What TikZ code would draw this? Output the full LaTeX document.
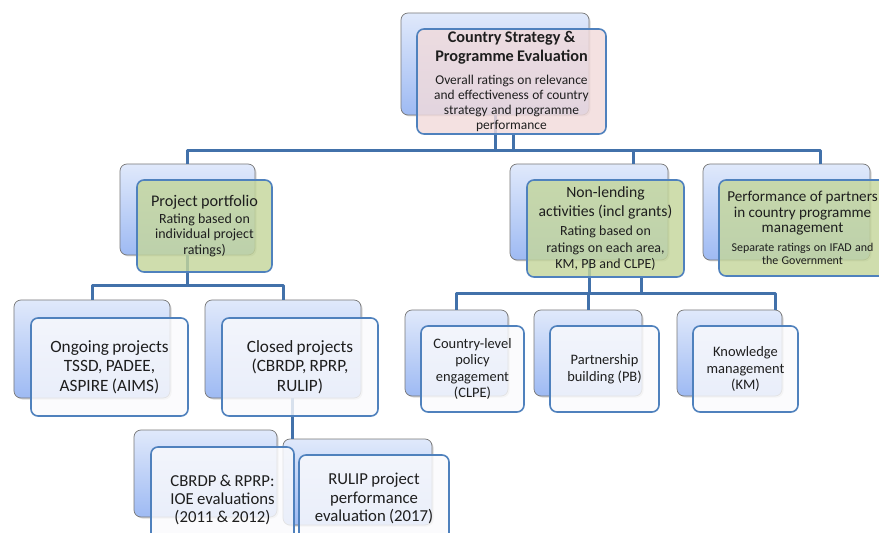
\documentclass[tikz,border=0pt]{standalone}
\usepackage{fontspec}
\setmainfont{Carlito}
\usetikzlibrary{shadows}
\definecolor{backtop}{RGB}{224,233,251}
\definecolor{backbot}{RGB}{158,186,243}
\definecolor{backline}{RGB}{120,120,120}
\definecolor{frontline}{RGB}{79,129,189}
\definecolor{connline}{RGB}{66,113,170}
\definecolor{pinkfill}{RGB}{242,219,219}
\definecolor{greenfill}{RGB}{196,214,155}
\definecolor{whitefill}{RGB}{250,250,252}
\definecolor{textcol}{RGB}{30,30,30}
\begin{document}
\begin{tikzpicture}[x=1bp,y=-1bp,line join=bevel,
  backbox/.style={draw=backline,line width=0.7bp,rounded corners=7bp,top color=backtop,bottom color=backbot,
    drop shadow={opacity=0.3,shadow xshift=1.5bp,shadow yshift=-1.5bp},inner sep=0pt},
  frontbox/.style={draw=frontline,line width=1.6bp,rounded corners=7bp,fill opacity=0.82,text opacity=1,
    inner ysep=0pt,inner xsep=-15bp,align=center,text=textcol},
  conn/.style={draw=connline,line width=3bp}]
\useasboundingbox (0,0) rectangle (879,533);
%% back boxes
% Node: top
\node[backbox,minimum width=188bp,minimum height=102bp] (topB) at (495,64) {};
% Node: pp
\node[backbox,minimum width=135bp,minimum height=91bp] (ppB) at (187.5,209.5) {};
% Node: nl
\node[backbox,minimum width=158bp,minimum height=96bp] (nlB) at (589,212) {};
% Node: perf
\node[backbox,minimum width=167bp,minimum height=96bp] (perfB) at (786.5,212) {};
% Node: ongo
\node[backbox,minimum width=156bp,minimum height=98bp] (ongoB) at (92,349) {};
% Node: closed
\node[backbox,minimum width=156bp,minimum height=98bp] (closedB) at (283,349) {};
% Node: clpe
\node[backbox,minimum width=103bp,minimum height=86bp] (clpeB) at (456.5,353) {};
% Node: pb
\node[backbox,minimum width=108bp,minimum height=86bp] (pbB) at (588,353) {};
% Node: km
\node[backbox,minimum width=105bp,minimum height=86bp] (kmB) at (729.5,353) {};
% Node: cbrdp
\node[backbox,minimum width=143bp,minimum height=87bp] (cbrdpB) at (205.5,473.5) {};
% Node: rulip
\node[backbox,minimum width=149bp,minimum height=86bp] (rulipB) at (357.5,482) {};
%%
% Edge: top -> pp
\draw[conn] (topB.south) -- ++(0,35) -| (ppB.north);
% Edge: top -> nl
\draw[conn] (topB.south) -- ++(0,35) -| ([xshift=44bp]nlB.north);
% Edge: top -> perf
\draw[conn] (topB.south) -- ++(0,35) -| ([xshift=34bp]perfB.north);
% Edge: pp -> ongo
\draw[conn] (ppB.south) -- ++(0,30) -| (ongoB.north);
% Edge: pp -> closed
\draw[conn] (ppB.south) -- ++(0,30) -| (closedB.north);
% Edge: nl -> clpe
\draw[conn] (nlB.south) -- ++(0,33) -| (clpeB.north);
% Edge: nl -> pb
\draw[conn] (nlB.south) -- ++(0,33) -| (pbB.north);
% Edge: nl -> km
\draw[conn] (nlB.south) -- ++(0,33) -| ([xshift=45.5bp]kmB.north);
% Edge: closed -> rulip
\draw[conn] ([xshift=9bp]closedB.south) -- ([xshift=9bp]closedB.south |- rulipB.north);
%% front boxes
% Node: top
\node[frontbox,fill=pinkfill,minimum width=189bp,minimum height=105bp,text width=219bp] (topF) at (511.5,81.5)
  {{\fontsize{16.3}{19}\selectfont\bfseries Country Strategy \&\\Programme Evaluation\par}\vspace{8bp}%
   {\fontsize{13.5}{15}\selectfont Overall ratings on relevance\\and effectiveness of country\\strategy and programme\\performance\par}};
% Node: pp
\node[frontbox,fill=greenfill,minimum width=135bp,minimum height=92bp,text width=165bp] (ppF) at (204.5,226)
  {{\fontsize{16.3}{18}\selectfont Project portfolio\par}\vspace{1bp}%
   {\fontsize{14}{15.5}\selectfont Rating based on\\individual project\\ratings)\par}};
% Node: nl
\node[frontbox,fill=greenfill,minimum width=157bp,minimum height=97bp,text width=187bp] (nlF) at (605.5,228.5)
  {{\fontsize{15.7}{19}\selectfont Non-lending\\activities (incl grants)\par}\vspace{3bp}%
   {\fontsize{14}{16.5}\selectfont Rating based on\\ratings on each area,\\KM, PB and CLPE)\par}};
% Node: perf
\node[frontbox,fill=greenfill,minimum width=167bp,minimum height=96bp,text width=197bp] (perfF) at (802.5,228)
  {{\fontsize{15.2}{15.5}\selectfont Performance of partners\\in country programme\\management\par}\vspace{6bp}%
   {\fontsize{12}{13}\selectfont Separate ratings on IFAD and\\the Government\par}};
% Node: ongo
\node[frontbox,fill=whitefill,minimum width=157bp,minimum height=98bp,text width=187bp] (ongoF) at (109.5,367)
  {\fontsize{17.3}{19.5}\selectfont Ongoing projects\\TSSD, PADEE,\\ASPIRE (AIMS)\par};
% Node: closed
\node[frontbox,fill=whitefill,minimum width=156bp,minimum height=98bp,text width=186bp] (closedF) at (300,367)
  {\fontsize{17.3}{19.5}\selectfont Closed projects\\(CBRDP, RPRP,\\RULIP)\par};
% Node: clpe
\node[frontbox,fill=whitefill,minimum width=103bp,minimum height=86bp,text width=133bp] (clpeF) at (472.5,369)
  {\fontsize{14.5}{16.7}\selectfont Country-level\\policy\\engagement\\(CLPE)\par};
% Node: pb
\node[frontbox,fill=whitefill,minimum width=109bp,minimum height=86bp,text width=139bp] (pbF) at (604.5,369)
  {\fontsize{14.5}{16.7}\selectfont Partnership\\building (PB)\par};
% Node: km
\node[frontbox,fill=whitefill,minimum width=105bp,minimum height=86bp,text width=135bp] (kmF) at (745.5,369)
  {\fontsize{14.5}{16.7}\selectfont Knowledge\\management\\(KM)\par};
% Node: cbrdp
\node[frontbox,fill=whitefill,minimum width=143bp,minimum height=106bp,text width=173bp] (cbrdpF) at (222.5,500)
  {\fontsize{16.8}{18}\selectfont CBRDP \& RPRP:\\IOE evaluations\\(2011 \& 2012)\par};
% Node: rulip
\node[frontbox,fill=whitefill,minimum width=150bp,minimum height=87bp,text width=180bp] (rulipF) at (374,498.5)
  {\fontsize{16.8}{18.5}\selectfont RULIP project\\performance\\evaluation (2017)\par};
%%
% Edge: top (front) -> bus
\draw[conn] ([xshift=1.5bp]topF.south) -- ++(0,16);
% Edge: nl (front) -> bus
\draw[conn] ([xshift=35.5bp]nlF.south) -- ++(0,16);
%
\end{tikzpicture}
\end{document}
